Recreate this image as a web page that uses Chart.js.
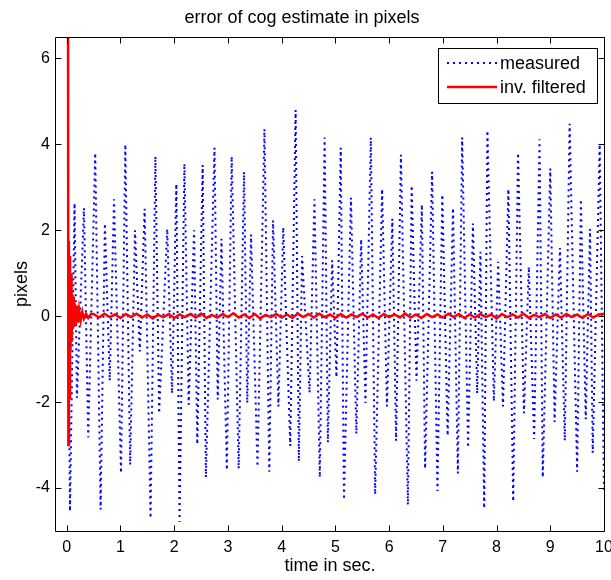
<!DOCTYPE html>
<html>
<head>
<meta charset="utf-8">
<script src="https://cdn.jsdelivr.net/npm/chart.js@4.4.1/dist/chart.umd.min.js"></script>
<style>
  html, body { margin: 0; padding: 0; background: #fff; }
  canvas { display: block; }
</style>
</head>
<body>
<canvas id="cogChart" width="611" height="580"></canvas>
<script>
const xTicks = [0, 1, 2, 3, 4, 5, 6, 7, 8, 9, 10];
const yTicks = [-4, -2, 0, 2, 4, 6];

// measured: peaks and troughs
const measuredTimes = [
    0.03, 0.06, 0.145, 0.19, 0.32, 0.40, 0.53, 0.63, 0.71, 0.80, 0.88, 1.01, 1.09, 1.18, 1.27, 1.36,
    1.45, 1.56, 1.65, 1.72, 1.87, 1.96, 2.04, 2.10, 2.19, 2.27, 2.37, 2.43, 2.53, 2.59, 2.75, 2.81,
    2.88, 2.98, 3.07, 3.20, 3.30, 3.36, 3.43, 3.55, 3.68, 3.77, 3.84, 3.94, 4.03, 4.16, 4.26, 4.32,
    4.38, 4.52, 4.61, 4.71, 4.80, 4.86, 4.94, 5.02, 5.10, 5.16, 5.29, 5.39, 5.48, 5.56, 5.66, 5.74,
    5.87, 5.96, 6.06, 6.13, 6.22, 6.35, 6.42, 6.51, 6.61, 6.67, 6.80, 6.90, 6.99, 7.09, 7.19, 7.28,
    7.36, 7.47, 7.56, 7.64, 7.70, 7.77, 7.83, 7.95, 8.03, 8.12, 8.22, 8.31, 8.40, 8.51, 8.60, 8.70,
    8.80, 8.86, 9.00, 9.08, 9.18, 9.27, 9.36, 9.50, 9.57, 9.66, 9.74, 9.79, 9.92, 10.0
];
const measuredValues = [
    0.0, -4.54, 2.63, -1.9, 2.52, -2.82, 3.8, -4.5, 2.16, -1.5, 2.72, -3.65, 4.0, -3.46, 2.0, -0.82,
    2.5, -4.7, 3.72, -2.26, 2.03, -1.8, 3.08, -4.79, 3.55, -2.06, 2.0, -2.98, 3.52, -3.75, 3.92, -1.94,
    1.8, -3.58, 3.72, -3.55, 3.36, -2.02, 1.9, -3.5, 4.36, -3.62, 2.23, -2.1, 2.07, -3.02, 4.8, -3.38,
    1.4, -1.78, 2.72, -3.75, 4.16, -2.94, 1.3, -1.42, 3.92, -4.27, 2.76, -2.74, 1.79, -2.02, 4.16, -4.15,
    2.96, -2.1, 2.27, -2.9, 3.76, -4.39, 3.04, -1.5, 2.6, -3.55, 3.36, -4.07, 2.83, -2.78, 2.52, -3.66,
    4.16, -3.06, 2.16, -1.8, 1.5, -4.47, 4.32, -1.98, 1.27, -2.1, 2.96, -4.31, 3.8, -2.26, 1.15, -2.86,
    4.12, -3.75, 3.44, -2.46, 1.59, -2.9, 4.48, -3.62, 2.72, -2.4, 2.03, -3.18, 4.0, -4.1
];

// inv. filtered: start transient, then small ripple round zero
const filteredTimes = [
    0.02, 0.03, 0.04, 0.05, 0.06, 0.07, 0.08, 0.09, 0.10, 0.11, 0.12, 0.13, 0.15, 0.17, 0.19, 0.21,
    0.23, 0.26, 0.29, 0.32, 0.36, 0.40, 0.45,
    0.5, 0.6, 0.7, 0.8, 0.9, 1.0, 1.1, 1.2, 1.3, 1.4, 1.5, 1.6, 1.7, 1.8, 1.9, 2.0,
    2.1, 2.2, 2.3, 2.4, 2.5, 2.6, 2.7, 2.8, 2.9, 3.0, 3.1, 3.2, 3.3, 3.4, 3.5, 3.6,
    3.7, 3.8, 3.9, 4.0, 4.1, 4.2, 4.3, 4.4, 4.5, 4.6, 4.7, 4.8, 4.9, 5.0, 5.1, 5.2,
    5.3, 5.4, 5.5, 5.6, 5.7, 5.8, 5.9, 6.0, 6.1, 6.2, 6.3, 6.4, 6.5, 6.6, 6.7, 6.8,
    6.9, 7.0, 7.1, 7.2, 7.3, 7.4, 7.5, 7.6, 7.7, 7.8, 7.9, 8.0, 8.1, 8.2, 8.3, 8.4,
    8.5, 8.6, 8.7, 8.8, 8.9, 9.0, 9.1, 9.2, 9.3, 9.4, 9.5, 9.6, 9.7, 9.8, 9.9, 10.0
];
const filteredValues = [
    14, -3.0, 1.75, -1.9, 1.4, -0.8, 1.0, -0.6, 0.5, -0.3, 0.45, -0.25, 0.3, -0.2, 0.25, -0.15,
    0.15, -0.1, 0.1, -0.06, 0.06, -0.04, 0.05,
    0.05, -0.03, 0.06, -0.02, 0.04, -0.04, 0.05, -0.02, 0.06, -0.03, 0.04, -0.05, 0.03, -0.02, 0.05, -0.04,
    0.04, -0.02, 0.05, -0.03, 0.06, -0.04, 0.03, -0.03, 0.05, -0.02, 0.07, -0.03, 0.04, -0.04, 0.05, -0.05,
    0.03, -0.02, 0.05, -0.03, 0.04, -0.04, 0.06, -0.02, 0.05, -0.03, 0.06, -0.02, 0.04, -0.04, 0.05, -0.03,
    0.04, -0.02, 0.06, -0.03, 0.04, -0.04, 0.05, -0.02, 0.04, -0.03, 0.06, -0.03, 0.04, -0.04, 0.05, -0.02,
    0.04, -0.03, 0.06, -0.02, 0.05, -0.04, 0.04, -0.03, 0.05, -0.02, 0.04, -0.05, 0.05, -0.02, 0.04, -0.03,
    0.06, -0.04, 0.03, -0.02, 0.05, -0.04, 0.04, -0.03, 0.05, -0.02, 0.04, -0.04, 0.05, -0.03, 0.04, 0.06
];

const fontFamily = "'Liberation Sans', Arial, sans-serif";

function toPoints(times, values) {
    return times.map((t, i) => ({ x: t, y: values[i] }));
}

// matlab style box with inward ticks, and the legend inside the axes
const matlabFrame = {
    id: 'matlabFrame',
    afterDatasetsDraw(chart) {
        const { ctx, chartArea: a, scales } = chart;
        const l = Math.round(a.left) - 0.5;
        const r = Math.round(a.right) + 0.5;
        const t = Math.round(a.top) + 0.5;
        const b = Math.round(a.bottom) + 0.5;
        const len = 6;

        ctx.save();
        ctx.strokeStyle = '#000';
        ctx.lineWidth = 1;
        ctx.beginPath();
        ctx.rect(l, t, r - l, b - t);
        scales.x.ticks.forEach(tick => {
            const px = Math.round(scales.x.getPixelForValue(tick.value)) + 0.5;
            ctx.moveTo(px, b); ctx.lineTo(px, b - len);
            ctx.moveTo(px, t); ctx.lineTo(px, t + len);
        });
        scales.y.ticks.forEach(tick => {
            const py = Math.round(scales.y.getPixelForValue(tick.value)) + 0.5;
            ctx.moveTo(l, py); ctx.lineTo(l + len, py);
            ctx.moveTo(r, py); ctx.lineTo(r - len, py);
        });
        ctx.stroke();

        // legend box
        const box = { left: 438.5, top: 48.5, right: 597.5, bottom: 103.5 };
        ctx.fillStyle = '#fff';
        ctx.fillRect(box.left, box.top, box.right - box.left, box.bottom - box.top);
        ctx.strokeRect(box.left, box.top, box.right - box.left, box.bottom - box.top);

        const rows = [63, 87];
        ctx.font = '18px ' + fontFamily;
        ctx.textBaseline = 'middle';
        ctx.textAlign = 'left';
        chart.data.datasets.forEach((ds, i) => {
            const y = rows[i];
            ctx.save();
            ctx.strokeStyle = ds.borderColor;
            ctx.lineWidth = ds.borderWidth;
            ctx.setLineDash(ds.borderDash || []);
            ctx.beginPath();
            ctx.moveTo(447, y);
            ctx.lineTo(497, y);
            ctx.stroke();
            ctx.restore();
            ctx.fillStyle = '#000';
            ctx.fillText(ds.label, 500, y + 1);
        });
        ctx.restore();
    }
};

new Chart(document.getElementById('cogChart'), {
    type: 'line',
    data: {
        datasets: [
            {
                label: 'measured',
                data: toPoints(measuredTimes, measuredValues),
                borderColor: '#0000ff',
                borderWidth: 2,
                borderDash: [2, 4],
                pointRadius: 0,
                tension: 0,
                fill: false,
                clip: 0,
                order: 2
            },
            {
                label: 'inv. filtered',
                data: toPoints(filteredTimes, filteredValues),
                borderColor: '#ff0000',
                borderWidth: 2.5,
                pointRadius: 0,
                tension: 0,
                fill: false,
                clip: 0,
                order: 1
            }
        ]
    },
    options: {
        responsive: false,
        animation: false,
        devicePixelRatio: 1,
        events: [],
        layout: { padding: { left: 0, right: 7, top: 0, bottom: 0 } },
        plugins: {
            legend: { display: false },
            tooltip: { enabled: false },
            title: {
                display: true,
                text: 'error of cog estimate in pixels',
                color: '#000',
                font: { family: fontFamily, size: 18, weight: 'normal' },
                padding: { top: 7, bottom: 8.4 }
            }
        },
        scales: {
            x: {
                type: 'linear',
                min: -0.2,
                max: 10,
                grid: { display: false, drawTicks: false },
                border: { display: false },
                ticks: {
                    color: '#000',
                    padding: 7,
                    maxRotation: 0,
                    autoSkip: false,
                    font: { family: fontFamily, size: 16 }
                },
                title: {
                    display: true,
                    text: 'time in sec.',
                    color: '#000',
                    font: { family: fontFamily, size: 18 },
                    padding: { top: 0, bottom: 3 }
                },
                afterBuildTicks: scale => {
                    scale.ticks = xTicks.map(v => ({ value: v }));
                },
                afterFit: scale => {
                    scale.height = 49;
                    scale.paddingLeft = 0;
                    scale.paddingRight = 0;
                }
            },
            y: {
                type: 'linear',
                min: -5,
                max: 6.5,
                grid: { display: false, drawTicks: false },
                border: { display: false },
                ticks: {
                    color: '#000',
                    padding: 6,
                    font: { family: fontFamily, size: 16 }
                },
                title: {
                    display: true,
                    text: 'pixels',
                    color: '#000',
                    font: { family: fontFamily, size: 18 },
                    padding: { top: 11, bottom: 0 }
                },
                afterBuildTicks: scale => {
                    scale.ticks = yTicks.map(v => ({ value: v }));
                },
                afterFit: scale => {
                    scale.width = 56;
                    scale.paddingTop = 0;
                    scale.paddingBottom = 0;
                }
            }
        }
    },
    plugins: [matlabFrame]
});
</script>
</body>
</html>
